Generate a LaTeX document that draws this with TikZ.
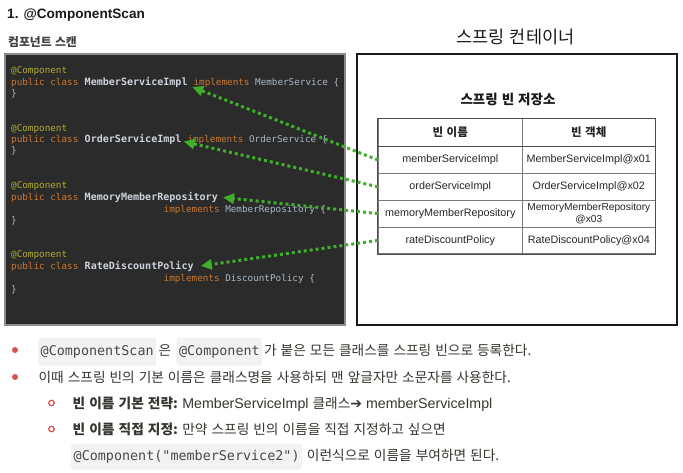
\documentclass[tikz,border=0pt]{standalone}
\usepackage{fontspec}
\setmainfont{Noto Sans CJK KR}[WordSpace=1.3]
\newfontfamily\arialf{Liberation Sans}
\newfontfamily\codef{DejaVu Sans Mono}
\newfontfamily\symf{DejaVu Sans}
\newcommand\latw[1]{{\arialf\fontsize{14.2}{16}\selectfont #1}}
\usetikzlibrary{arrows.meta}
\definecolor{codebg}{HTML}{2B2B2B}
\definecolor{codeborder}{HTML}{8C8C8C}
\definecolor{annot}{HTML}{B0AC35}
\definecolor{kw}{HTML}{C97732}
\definecolor{ident}{HTML}{A9B7C6}
\definecolor{clsgrey}{HTML}{CDD3DC}
\definecolor{arrowgreen}{HTML}{3FAE2A}
\definecolor{bulletred}{HTML}{D9534F}
\definecolor{inlinebg}{HTML}{F2F2F4}
\definecolor{bodytext}{HTML}{37352F}
\definecolor{cellline}{HTML}{7A7A7A}
\begin{document}
\begin{tikzpicture}[x=1pt,y=-1pt,
  codetext/.style={anchor=base west, inner sep=0pt, font=\codef\fontsize{9.3}{11}\selectfont, text=ident},
  clsname/.style={anchor=base west, inner sep=0pt, font=\codef\bfseries\fontsize{10.05}{11}\selectfont, text=clsgrey},
  beanarrow/.style={draw=arrowgreen, line width=3pt, dash pattern=on 3pt off 3pt, -{Triangle[length=11pt,width=10pt]}},
  cell/.style={draw=cellline, line width=0.7pt, inner sep=0pt, font=\arialf\fontsize{10.8}{12}\selectfont, text=black!85, align=center},
  cellL/.style={cell, minimum width=144pt},
  cellR/.style={cell, minimum width=133pt},
  headcell/.style={minimum height=27.9pt, font=\bfseries\fontsize{11.5}{13}\selectfont},
  rowcell/.style={minimum height=26.8pt},
  txt/.style={anchor=base west, inner sep=0pt, font=\fontsize{13.7}{16}\selectfont, text=bodytext},
  boldtxt/.style={txt, font=\bfseries\fontsize{13.7}{16}\selectfont},
  inl/.style={anchor=base west, fill=inlinebg, rounded corners=3pt, inner xsep=2.5pt, inner ysep=0pt,
     minimum height=28pt, text height=10pt, text depth=3pt, font=\codef\fontsize{13.4}{16}\selectfont, text=bodytext!90},
  dotbullet/.style={circle, fill=bulletred, inner sep=0pt, minimum size=6pt},
  ringbullet/.style={circle, draw=bulletred, line width=1.3pt, inner sep=0pt, minimum size=5.5pt}
]
\useasboundingbox (0,0) rectangle (683,472);
\fill[white] (0,0) rectangle (683,472);

% titles
\node[anchor=west, inner sep=0pt, font=\arialf\bfseries\fontsize{13.6}{15}\selectfont, text=black!90] (title) at (7,15) {1. @ComponentScan};
\node[anchor=west, inner sep=0pt, font=\bfseries\fontsize{11.8}{13}\selectfont, text=black!75] (scanlabel) at (8,41.7) {컴포넌트 스캔};

% code box
\draw[fill=codebg, draw=codeborder, line width=1.2pt] (5,54) rectangle (345,325);

% block 1
\node[codetext] (a1) at (11,73.5) {\color{annot}@Component};
\node[codetext] (p1) at (11,85.5) {\color{kw}public class};
\node[clsname] (c1) at (84.5,85.5) {MemberServiceImpl};
\node[codetext] (i1) at (c1.base east) {\ \color{kw}implements \color{ident}MemberService \{};
\node[codetext] (e1) at (11,96.5) {\}};
% block 2
\node[codetext] (a2) at (11,131) {\color{annot}@Component};
\node[codetext] (p2) at (11,142.5) {\color{kw}public class};
\node[clsname] (c2) at (84.5,142.5) {OrderServiceImpl};
\node[codetext] (i2) at (c2.base east) {\ \color{kw}implements \color{ident}OrderService \{};
\node[codetext] (e2) at (11,153.5) {\}};
% block 3
\node[codetext] (a3) at (11,188.5) {\color{annot}@Component};
\node[codetext] (p3) at (11,200) {\color{kw}public class};
\node[clsname] (c3) at (84.5,200) {MemoryMemberRepository};
\node[codetext] (i3) at (163.5,212) {\color{kw}implements \color{ident}MemberRepository \{};
\node[codetext] (e3) at (11,223.5) {\}};
% block 4
\node[codetext] (a4) at (11,257) {\color{annot}@Component};
\node[codetext] (p4) at (11,269) {\color{kw}public class};
\node[clsname] (c4) at (84.5,269) {RateDiscountPolicy};
\node[codetext] (i4) at (163.5,281) {\color{kw}implements \color{ident}DiscountPolicy \{};
\node[codetext] (e4) at (11,292.5) {\}};

% container
\node[inner sep=0pt, font=\fontsize{17.5}{19}\selectfont, text=black!90] (ctitle) at (515.5,37) {스프링 컨테이너};
\draw[line width=2pt, draw=black!90] (357.3,54.3) rectangle (676.7,325);
\node[inner sep=0pt, font=\bfseries\fontsize{13.5}{15}\selectfont, text=black!90] (store) at (508,99) {스프링 빈 저장소};

% table
\node[cellL, headcell] (hL) at (450.3,132.65) {빈 이름};
\node[cellR, headcell] (hR) at (588.8,132.65) {빈 객체};
\node[cellL, rowcell] (r1) at (450.3,160) {memberServiceImpl};
\node[cellR, rowcell] (o1) at (588.8,160) {MemberServiceImpl@x01};
\node[cellL, rowcell] (r2) at (450.3,186.8) {orderServiceImpl};
\node[cellR, rowcell] (o2) at (588.8,186.8) {OrderServiceImpl@x02};
\node[cellL, rowcell] (r3) at (450.3,213.6) {memoryMemberRepository};
\node[cellR, rowcell, font=\arialf\fontsize{10.2}{11.6}\selectfont] (o3) at (588.8,213.6) {MemoryMemberRepository\\@x03};
\node[cellL, rowcell] (r4) at (450.3,240.4) {rateDiscountPolicy};
\node[cellR, rowcell] (o4) at (588.8,240.4) {RateDiscountPolicy@x04};
\draw[line width=1pt, draw=black!70] (hL.north west) rectangle (o4.south east);
\draw[line width=1pt, draw=black!70] (hL.south west) -- (hR.south east);

% arrows
\draw[beanarrow] (r1.west) -- ([shift={(4.5,4.5)}]c1.east);
\draw[beanarrow] (r2.west) -- ([shift={(2,2)}]c2.east);
\draw[beanarrow] (r3.west) -- ([shift={(5,0.5)}]c3.east);
\draw[beanarrow] (r4.west) -- ([shift={(7,0)}]c4.east);

% bullet 1
\node[dotbullet] (bl1) at (15,350) {};
\node[inl] (ic1) at (38,355) {@ComponentScan};
\node[txt] (t1a) at ([xshift=2pt]ic1.base east) {은};
\node[inl] (ic2) at ([xshift=5pt]t1a.base east) {@Component};
\node[txt] (t1b) at ([xshift=1.5pt]ic2.base east) {가 붙은 모든 클래스를 스프링 빈으로 등록한다.};
% bullet 2
\node[dotbullet] (bl2) at (15,377) {};
\node[txt] (t2) at (38.4,382) {이때 스프링 빈의 기본 이름은 클래스명을 사용하되 맨 앞글자만 소문자를 사용한다.};
% sub bullet 1
\node[ringbullet] (sb1) at (51.5,403) {};
\node[boldtxt] (s1a) at (72.5,408) {빈 이름 기본 전략:};
\node[txt] (s1b) at (s1a.base east) {\ \latw{MemberServiceImpl} 클래스{\symf\fontsize{14}{16}\selectfont ➔}\latw{ memberServiceImpl}};
% sub bullet 2
\node[ringbullet] (sb2) at (51.5,429) {};
\node[boldtxt] (s2a) at (72.5,434) {빈 이름 직접 지정:};
\node[txt] (s2b) at (s2a.base east) {\ 만약 스프링 빈의 이름을 직접 지정하고 싶으면};
% line 3
\node[inl, minimum height=26pt] (ic3) at (71,460) {@Component("memberService2")};
\node[txt] (t3) at ([xshift=4.5pt]ic3.base east) {이런식으로 이름을 부여하면 된다.};
\end{tikzpicture}
\end{document}
